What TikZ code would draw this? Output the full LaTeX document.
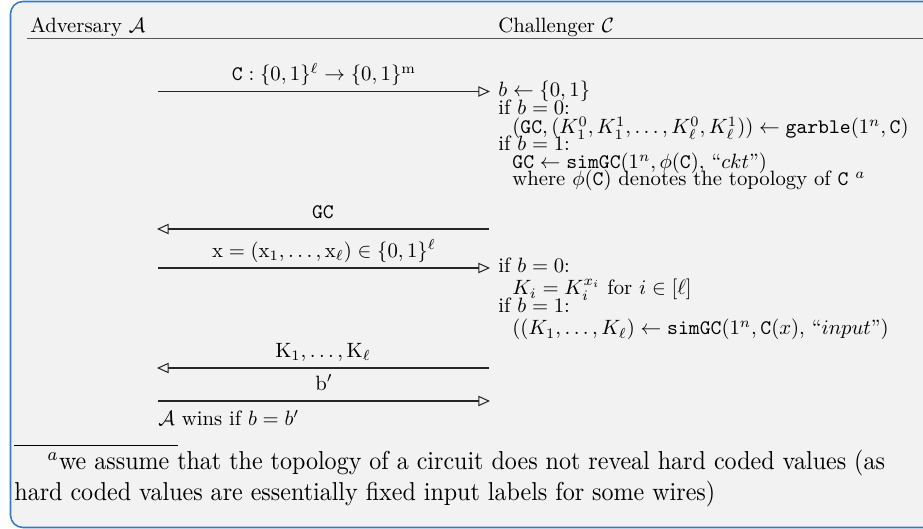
\documentclass[tikz,border=0pt]{standalone}
\usepackage{tikz}
\usepackage{xcolor}
\usepackage{amsmath,amssymb}
\usepackage{graphicx}
\usetikzlibrary{calc,arrows.meta,positioning}
\definecolor{frameBlue}{RGB}{52,121,199}
\definecolor{frameGray}{RGB}{242,242,242}
\definecolor{ruleGray}{RGB}{85,85,85}
\newcommand{\Adv}{\mathcal{A}}
\newcommand{\Chal}{\mathcal{C}}
\newcommand{\Ckt}{\mathtt{C}}
\newcommand{\FootTxt}[1]{\scalebox{1.16}[1.25]{#1}}

\begin{document}
\begin{tikzpicture}[x=0.483pt,y=-0.483pt,
  msgline/.style={line width=0.5pt,draw=black!85},
  toC/.style={msgline,-{Triangle[open,length=5.6pt,width=5pt]}},
  toA/.style={msgline,{Triangle[open,length=5.6pt,width=5pt]}-},
  msglabel/.style={anchor=base,yshift=5.3pt,inner sep=0pt},
  rowtxt/.style={anchor=base west,inner sep=0pt}]
\useasboundingbox (0,0) rectangle (923,529);
\draw[frameBlue,fill=frameGray,line width=0.75pt,rounded corners=6pt] (10.5,1.5) rectangle (940,527.5);

% header
\node[rowtxt] (adv) at (30,33) {Adversary $\Adv$};
\node[rowtxt] (chal) at (498,33) {Challenger $\Chal$};
\coordinate (hl) at (27,38.5);
\coordinate (hr) at (930,38.5);
\draw[ruleGray,line width=0.65pt] (hl) -- (hr);

% message end points
\coordinate (a1) at (158,91.5);  \coordinate (c1) at (490,91.5);
\coordinate (a2) at (157,229);   \coordinate (c2) at (489,229);
\coordinate (a3) at (158,268);   \coordinate (c3) at (490,268);
\coordinate (a4) at (157,368);   \coordinate (c4) at (489,368);
\coordinate (a5) at (158,401);   \coordinate (c5) at (490,401);

\draw[toC] (a1) -- node[msglabel] {$\Ckt : \{0,1\}^\ell \to \{0,1\}^{\mathrm{m}}$} (c1);
\draw[toA] (a2) -- node[msglabel] {$\mathtt{GC}$} (c2);
\draw[toC] (a3) -- node[msglabel] {$\mathrm{x} = (\mathrm{x}_1, \ldots, \mathrm{x}_\ell) \in \{0,1\}^\ell$} (c3);
\draw[toA] (a4) -- node[msglabel] {$\mathrm{K}_1, \ldots, \mathrm{K}_\ell$} (c4);
\draw[toC] (a5) -- node[msglabel] {$\mathrm{b}'$} (c5);

% challenger steps
\node[rowtxt] (s1) at (498,97) {$b \gets \{0,1\}$};
\node[rowtxt] (s2) at (498,115) {if $b = 0$:};
\node[rowtxt] (s3) at (512,134) {$(\mathtt{GC}, (K_1^0, K_1^1, \ldots, K_\ell^0, K_\ell^1)) \gets \mathtt{garble}(1^n, \Ckt)$};
\node[rowtxt] (s4) at (498,151) {if $b = 1$:};
\node[rowtxt] (s5) at (512,169) {$\mathtt{GC} \gets \mathtt{simGC}(1^n, \phi(\Ckt),$ ``$ckt$''$)$};
\node[rowtxt] (s6) at (512,186) {where $\phi(\Ckt)$ denotes the topology of $\Ckt$ $^a$};
\node[rowtxt] (t1) at (498,273) {if $b = 0$:};
\node[rowtxt] (t2) at (512,295) {$K_i = K_i^{x_i}$ for $i \in [\ell]$};
\node[rowtxt] (t3) at (498,313) {if $b = 1$:};
\node[rowtxt] (t4) at (512,335) {$((K_1, \ldots, K_\ell) \gets \mathtt{simGC}(1^n, \Ckt(x),$ ``$input$''$)$};

% outcome
\node[rowtxt] (win) at (158,426) {$\Adv$ wins if $b = b'$};

% footnote
\coordinate (fl) at (14,445);
\coordinate (fr) at (178,445);
\draw[line width=0.4pt] (fl) -- (fr);
\node[rowtxt] (fn1) at (47,470) {\FootTxt{$^a$we assume that the topology of a circuit does not reveal hard coded values (as}};
\node[rowtxt] (fn2) at (14,501) {\FootTxt{hard coded values are essentially fixed input labels for some wires)}};
\end{tikzpicture}
\end{document}
